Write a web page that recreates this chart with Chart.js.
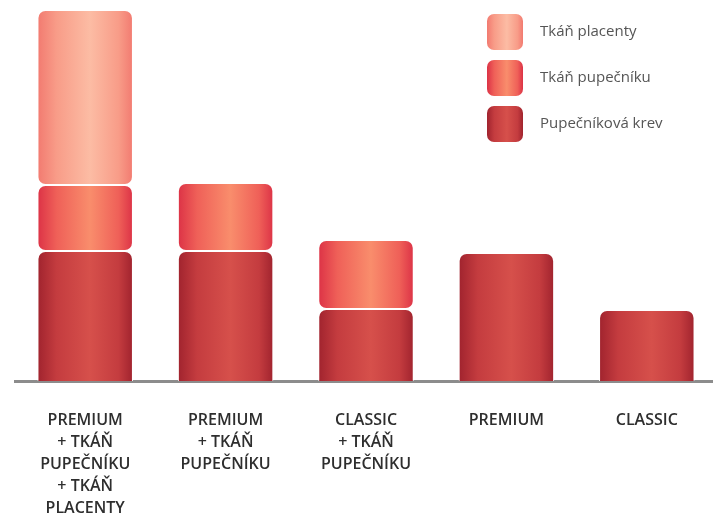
<!DOCTYPE html>
<html>
<head>
<meta charset="utf-8">
<script src="https://cdn.jsdelivr.net/npm/chart.js@4"></script>
<style>
  html, body { margin: 0; padding: 0; background: #fff; overflow: hidden; }
  #wrap { width: 713px; height: 516px; overflow: hidden; }
</style>
</head>
<body>
<div id="wrap"><canvas id="c" width="717" height="516"></canvas></div>
<script>
const categories = [
    ['PREMIUM', '+ TKÁŇ', 'PUPEČNÍKU', '+ TKÁŇ', 'PLACENTY'],
    ['PREMIUM', '+ TKÁŇ', 'PUPEČNÍKU'],
    ['CLASSIC', '+ TKÁŇ', 'PUPEČNÍKU'],
    'PREMIUM',
    'CLASSIC'
];
const seriesNames = ['Pupečníková krev', 'Tkáň pupečníku', 'Tkáň placenty'];
const krev = [130, 130, 72, 128, 71];
const pupecnik = [66, 68, 69, null, null];
const placenta = [175, null, null, null, null];

// edge / mid / centre colours for the "cylinder" look
const shades = [
    ['#a0232e', '#c43c3f', '#d6504b'],
    ['#dc3246', '#ef6058', '#f98d6c'],
    ['#f27a70', '#f89c88', '#fcbca4']
];
const BAR_PCT = 0.68;

function barGradient(chart, k) {
    const area = chart.chartArea;
    if (!area) return shades[k][0];
    const x = chart.scales.x;
    const ctx = chart.ctx;
    const g = ctx.createLinearGradient(area.left, 0, area.right, 0);
    const w = area.right - area.left;
    const half = (x.width / categories.length) * BAR_PCT / 2;
    const f = v => Math.min(1, Math.max(0, (v - area.left) / w));
    categories.forEach((_, i) => {
        const c = x.getPixelForValue(i);
        g.addColorStop(f(c - half), shades[k][0]);
        g.addColorStop(f(c - half * 0.6), shades[k][1]);
        g.addColorStop(f(c + half * 0.1), shades[k][2]);
        g.addColorStop(f(c + half * 0.7), shades[k][1]);
        g.addColorStop(f(c + half), shades[k][0]);
    });
    return g;
}

function legendGradient(ctx, x, w, k) {
    const g = ctx.createLinearGradient(x, 0, x + w, 0);
    g.addColorStop(0, shades[k][0]);
    g.addColorStop(0.2, shades[k][1]);
    g.addColorStop(0.55, shades[k][2]);
    g.addColorStop(0.85, shades[k][1]);
    g.addColorStop(1, shades[k][0]);
    return g;
}

const cornerLegend = {
    id: 'cornerLegend',
    afterDraw(chart) {
        const ctx = chart.ctx;
        const boxX = 487, boxW = 36, startY = 14, step = 46;
        ctx.save();
        [2, 1, 0].forEach((k, row) => {
            const y = startY + row * step;
            ctx.fillStyle = legendGradient(ctx, boxX, boxW, k);
            ctx.beginPath();
            ctx.roundRect(boxX, y, boxW, boxW, 7);
            ctx.fill();
            ctx.fillStyle = '#555';
            ctx.font = '15px "Open Sans"';
            ctx.textBaseline = 'middle';
            ctx.fillText(chart.data.datasets[k].label, 540, y + boxW / 2);
        });
        ctx.restore();
    }
};

const round = { topLeft: 8, topRight: 8, bottomLeft: 8, bottomRight: 8 };

new Chart(document.getElementById('c').getContext('2d'), {
    type: 'bar',
    data: {
        labels: categories,
        datasets: [krev, pupecnik, placenta].map((d, k) => ({
            label: seriesNames[k],
            data: d,
            backgroundColor: c => barGradient(c.chart, k),
            borderColor: '#ffffff',
            borderWidth: 1,
            borderSkipped: k === 0 ? 'start' : false,
            borderRadius: k === 0 ? { topLeft: 8, topRight: 8, bottomLeft: 0, bottomRight: 0 } : round,
            barPercentage: BAR_PCT,
            categoryPercentage: 1
        }))
    },
    options: {
        responsive: false,
        animation: false,
        layout: { padding: { left: 15, right: 0, top: 1, bottom: 0 } },
        scales: {
            x: {
                stacked: true,
                grid: { display: false },
                border: { display: true, color: '#8c8c8c', width: 3 },
                ticks: {
                    color: '#2e2e2e',
                    padding: 20,
                    maxRotation: 0,
                    autoSkip: false,
                    font: { family: '"Open Sans"', size: 16, weight: '600', lineHeight: 1.375 }
                },
                afterFit(scale) { scale.height = 135; }
            },
            y: {
                stacked: true,
                display: false,
                min: 0,
                max: 380
            }
        },
        plugins: {
            legend: { display: false },
            tooltip: { enabled: false }
        }
    },
    plugins: [cornerLegend]
});
</script>
</body>
</html>
